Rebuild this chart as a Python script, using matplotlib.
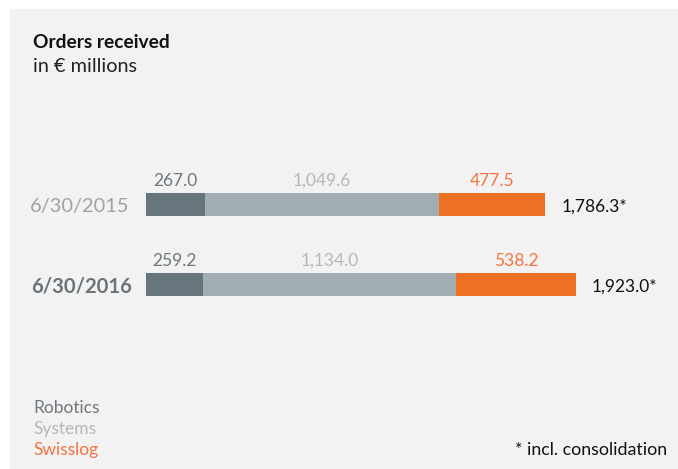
import matplotlib
matplotlib.use("Agg")
import matplotlib.pyplot as plt
import numpy as np

# ---- data ----
categories = ["6/30/2015", "6/30/2016"]
segments = ["Robotics", "Systems", "Swisslog"]
robotics = [267.0, 259.2]
systems = [1049.6, 1134.0]
swisslog = [477.5, 538.2]
totals = ["1,786.3*", "1,923.0*"]
seg_labels = [["267.0", "1,049.6", "477.5"], ["259.2", "1,134.0", "538.2"]]

FONT = ["Lato", "DejaVu Sans"]
plt.rcParams["font.family"] = FONT

W, H = 678, 469
fig = plt.figure(figsize=(W / 100, H / 100), dpi=100)
fig.patch.set_facecolor("white")

# background panel
bg = fig.add_axes([10 / W, 0, 1 - 10 / W, 1 - 9 / H])
bg.set_facecolor("#f2f2f2")
bg.set_xticks([]); bg.set_yticks([])
for sp in bg.spines.values():
    sp.set_visible(False)
bg.set_zorder(0)

ax = fig.add_axes([0, 0, 1, 1])
ax.set_zorder(1)
ax.set_facecolor("none")
ax.patch.set_alpha(0)
# map values to pixels: value 0 at x=145.5px, 0.2228 px per unit
s = 0.2228
x0 = 145.5
ax.set_xlim(-x0 / s, (W - x0) / s)
# category rows: row 0 centre at 204.5px, row 1 at 284.5px
ax.set_ylim((H - 204.5) / 80, -204.5 / 80)
ax.axis("off")

colors = ["#67757d", "#a1acb3", "#ee7023"]
label_colors = ["#6e777d", "#b3b8bc", "#f5743f"]
ypos = np.arange(len(categories))
bar_h = 23 / 80

left = np.zeros(len(categories))
for vals, col, lcol, k in zip([robotics, systems, swisslog], colors, label_colors, range(3)):
    vals = np.array(vals)
    ax.barh(ypos, vals, left=left, height=bar_h, color=col, edgecolor="none", zorder=2)
    for i in range(len(categories)):
        ax.text(left[i] + vals[i] / 2, ypos[i] - bar_h / 2 - 0.05, seg_labels[i][k],
                ha="center", va="bottom", fontsize=12.5, color=lcol)
    left = left + vals

for i in range(len(categories)):
    ax.text(left[i] + 16 / s, ypos[i] + 0.03, totals[i], ha="left", va="center",
            fontsize=12.5, color="#111111")

# category labels
cat_styles = [dict(color="#9ea3a7", fontweight="normal", fontsize=14.4, dx=16),
              dict(color="#6b7378", fontweight="bold", fontsize=14.6, dx=14)]
for i, c in enumerate(categories):
    st = dict(cat_styles[i])
    dx = st.pop("dx")
    ax.text(-dx / s, ypos[i] + 0.03, c, ha="right", va="center", **st)

# title
fig.text(33 / W, 1 - 43 / H, "Orders received", ha="left", va="center",
         fontsize=13.8, fontweight="bold", color="#111111")
fig.text(33 / W, 1 - 66 / H, "in € millions", ha="left", va="center",
         fontsize=14.3, color="#222222")

# legend
for k, (name, lc) in enumerate(zip(segments, label_colors)):
    fig.text(33 / W, 1 - (408 + 21 * k) / H, name, ha="left", va="center",
             fontsize=12.5, color=lc)

fig.text(667 / W, 1 - 450 / H, "* incl. consolidation", ha="right", va="center",
         fontsize=12.8, color="#111111")

fig.savefig("out.png", dpi=100, facecolor="white")
